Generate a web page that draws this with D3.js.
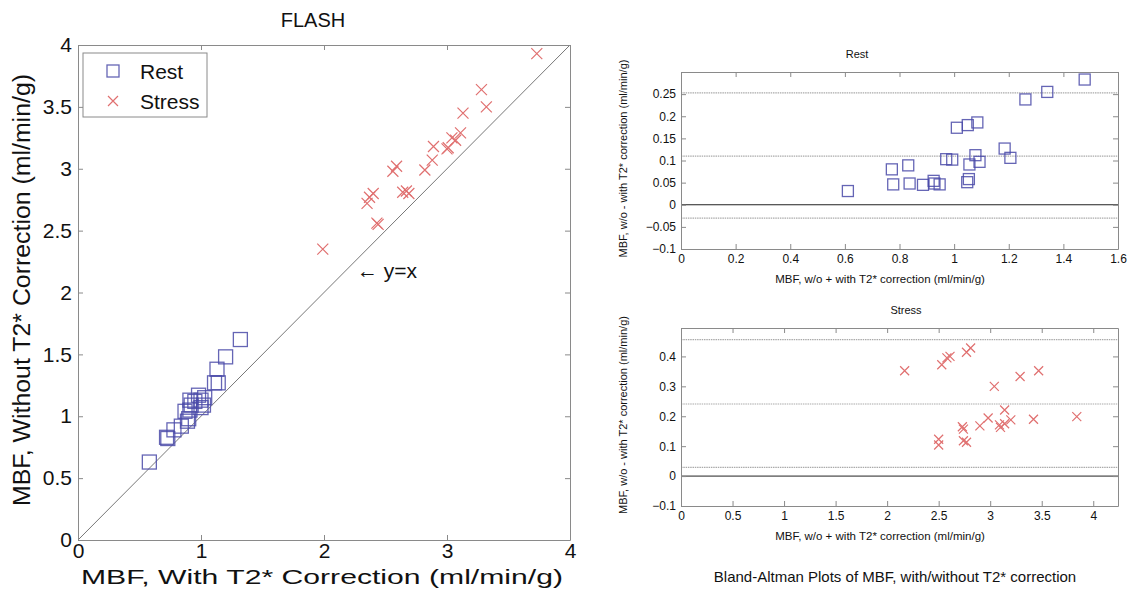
<!DOCTYPE html>
<html>
<head>
<meta charset="utf-8">
<script src="https://cdn.jsdelivr.net/npm/d3@7"></script>
<style>
  body { margin: 0; background: #fff; }
  svg text { font-family: "Liberation Sans", Arial, sans-serif; fill: #111; }
</style>
</head>
<body>
<div id="chart"></div>
<script>
// left panel: with vs without T2* correction
const restWith     = [0.58, 0.72, 0.73, 0.78, 0.84, 0.87, 0.89, 0.90, 0.91, 0.91, 0.92, 0.95, 0.98, 1.00, 1.00, 1.02, 1.03, 1.11, 1.13, 1.14, 1.20, 1.32]
const restWithout  = [0.63, 0.83, 0.82, 0.89, 0.92, 1.04, 0.96, 0.98, 1.05, 1.13, 1.09, 1.12, 1.17, 1.13, 1.07, 1.09, 1.15, 1.27, 1.38, 1.27, 1.48, 1.62]
const stressWith    = [1.99, 2.35, 2.37, 2.40, 2.43, 2.44, 2.56, 2.59, 2.64, 2.67, 2.69, 2.82, 2.88, 2.89, 3.00, 3.01, 3.04, 3.07, 3.11, 3.13, 3.28, 3.32, 3.73]
const stressWithout = [2.35, 2.72, 2.77, 2.80, 2.56, 2.55, 2.98, 3.02, 2.81, 2.82, 2.80, 2.99, 3.07, 3.18, 3.16, 3.17, 3.25, 3.23, 3.29, 3.45, 3.64, 3.50, 3.93]

// Bland-Altman, rest
const restMean = [0.611, 0.772, 0.777, 0.832, 0.837, 0.886, 0.925, 0.928, 0.947, 0.971, 0.993, 1.010, 1.048, 1.050, 1.054, 1.056, 1.078, 1.085, 1.093, 1.185, 1.206, 1.261, 1.341, 1.478]
const restDiff = [0.031, 0.080, 0.046, 0.089, 0.048, 0.045, 0.054, 0.048, 0.046, 0.103, 0.102, 0.174, 0.051, 0.180, 0.058, 0.091, 0.112, 0.186, 0.097, 0.127, 0.106, 0.238, 0.255, 0.283]
const restLines = [-0.03, 0.11, 0.253]

// Bland-Altman, stress
const stressMean = [2.17, 2.50, 2.50, 2.53, 2.58, 2.61, 2.73, 2.74, 2.74, 2.77, 2.77, 2.81, 2.90, 2.98, 3.04, 3.09, 3.10, 3.14, 3.14, 3.20, 3.29, 3.42, 3.47, 3.84]
const stressDiff = [0.352, 0.123, 0.104, 0.372, 0.395, 0.400, 0.165, 0.157, 0.118, 0.113, 0.414, 0.428, 0.168, 0.194, 0.300, 0.171, 0.163, 0.221, 0.175, 0.188, 0.333, 0.190, 0.352, 0.199]
const stressLines = [0.029, 0.241, 0.456]

const width = 1131
const height = 591
const blue = '#4a4aa8'
const red = '#e07070'
const boxColor = '#8a8a8a'

const svg = d3.select('#chart')
              .append('svg')
              .attr('width', width)
              .attr('height', height)

// draws a MATLAB-like box with inward ticks on all four sides
function drawBox(g, x, y, xTicks, yTicks, fmtX, fmtY, fontSize, padX, padY) {
    const [x0, x1] = x.range()
    const [y1, y0] = y.range()
    const tick = 5

    g.append('g')
       .attr('transform', `translate(0, ${y1})`)
       .call(d3.axisBottom(x).tickValues(xTicks).tickSizeInner(-tick).tickSizeOuter(0).tickPadding(padX).tickFormat(fmtX))
    g.append('g')
       .attr('transform', `translate(${x0}, 0)`)
       .call(d3.axisLeft(y).tickValues(yTicks).tickSizeInner(-tick).tickSizeOuter(0).tickPadding(padY).tickFormat(fmtY))
    g.append('g')
       .attr('transform', `translate(0, ${y0})`)
       .call(d3.axisTop(x).tickValues(xTicks).tickSizeInner(-tick).tickSizeOuter(0).tickFormat(''))
    g.append('g')
       .attr('transform', `translate(${x1}, 0)`)
       .call(d3.axisRight(y).tickValues(yTicks).tickSizeInner(-tick).tickSizeOuter(0).tickFormat(''))

    g.selectAll('.domain, .tick line').attr('stroke', boxColor)
    g.selectAll('.tick text')
     .attr('font-size', fontSize)
     .attr('font-family', '"Liberation Sans", Arial, sans-serif')
     .attr('fill', '#111')
}

function squares(g, xs, ys, x, y, size) {
    g.selectAll(null)
     .data(xs.map((d, i) => [d, ys[i]]))
     .enter().append('rect')
     .attr('x', d => x(d[0]) - size / 2)
     .attr('y', d => y(d[1]) - size / 2)
     .attr('width', size)
     .attr('height', size)
     .attr('fill', 'none')
     .attr('stroke', blue)
     .attr('stroke-opacity', 0.85)
     .attr('stroke-width', 1.3)
}

function crosses(g, xs, ys, x, y, size) {
    const h = size / 2
    g.selectAll(null)
     .data(xs.map((d, i) => [d, ys[i]]))
     .enter().append('path')
     .attr('d', d => {
        const cx = x(d[0]), cy = y(d[1])
        return `M${cx - h},${cy - h}L${cx + h},${cy + h}M${cx - h},${cy + h}L${cx + h},${cy - h}`
     })
     .attr('stroke', red)
     .attr('stroke-width', 1.2)
     .attr('fill', 'none')
}

// ---------- left panel ----------
const xL = d3.scaleLinear().domain([0, 4]).range([78, 570])
const yL = d3.scaleLinear().domain([0, 4]).range([540, 45])
const gL = svg.append('g')

gL.append('line')
  .attr('x1', xL(0)).attr('y1', yL(0))
  .attr('x2', xL(4)).attr('y2', yL(4))
  .attr('stroke', '#777')
  .attr('stroke-width', 1)

drawBox(gL, xL, yL, [0, 1, 2, 3, 4], [0, 0.5, 1, 1.5, 2, 2.5, 3, 3.5, 4], d3.format('~g'), d3.format('~g'), 21, 3, 6)

squares(gL, restWith, restWithout, xL, yL, 14)
crosses(gL, stressWith, stressWithout, xL, yL, 11)

gL.append('text')
  .attr('x', 357).attr('y', 278)
  .attr('font-size', 21)
  .text('\u2190 y=x')

gL.append('text')
  .attr('x', 313).attr('y', 27)
  .attr('text-anchor', 'middle')
  .attr('font-size', 20)
  .text('FLASH')

gL.append('text')
  .attr('x', 322).attr('y', 584)
  .attr('text-anchor', 'middle')
  .attr('font-size', 21)
  .attr('textLength', 482)
  .attr('lengthAdjust', 'spacingAndGlyphs')
  .text('MBF, With T2* Correction (ml/min/g)')

gL.append('text')
  .attr('transform', 'translate(30, 290) rotate(-90)')
  .attr('text-anchor', 'middle')
  .attr('font-size', 23)
  .attr('textLength', 432)
  .attr('lengthAdjust', 'spacingAndGlyphs')
  .text('MBF, Without T2* Correction (ml/min/g)')

// legend
const leg = gL.append('g')
leg.append('rect')
   .attr('x', 83).attr('y', 53).attr('width', 124).attr('height', 64)
   .attr('fill', '#fff').attr('stroke', boxColor)
squares(leg, [0], [0], () => 113, () => 71, 12)
crosses(leg, [0], [0], () => 113, () => 101, 10)
leg.append('text').attr('x', 140).attr('y', 79).attr('font-size', 21).text('Rest')
leg.append('text').attr('x', 140).attr('y', 109).attr('font-size', 21).text('Stress')

// ---------- right panels ----------
function baPanel(xDom, yDom, top, bottom, xTicks, yTicks, xs, ys, lines, title, titleX, isRest) {
    const x = d3.scaleLinear().domain(xDom).range([681, 1118])
    const y = d3.scaleLinear().domain(yDom).range([bottom, top])
    const g = svg.append('g')

    g.selectAll(null)
     .data(lines)
     .enter().append('line')
     .attr('x1', x(xDom[0])).attr('x2', x(xDom[1]))
     .attr('y1', d => y(d)).attr('y2', d => y(d))
     .attr('stroke', '#aaa')
     .attr('stroke-width', 1.2)
     .attr('stroke-dasharray', '1.5,0.8')

    g.append('line')
     .attr('x1', x(xDom[0])).attr('x2', x(xDom[1]))
     .attr('y1', y(0)).attr('y2', y(0))
     .attr('stroke', '#222')
     .attr('stroke-width', 1)

    drawBox(g, x, y, xTicks, yTicks, d3.format('~g'), d3.format('~g'), 12, 5, 5)

    if (isRest) squares(g, xs, ys, x, y, 11)
    else crosses(g, xs, ys, x, y, 9)

    g.append('text')
     .attr('x', titleX).attr('y', top - 14)
     .attr('text-anchor', 'middle')
     .attr('font-size', 11)
     .text(title)

    g.append('text')
     .attr('x', 880).attr('y', bottom + 34)
     .attr('text-anchor', 'middle')
     .attr('font-size', 11.5)
     .text('MBF, w/o + with T2* correction (ml/min/g)')

    g.append('text')
     .attr('transform', `translate(627, ${(top + bottom) / 2 - 2}) rotate(-90)`)
     .attr('text-anchor', 'middle')
     .attr('font-size', 11)
     .text('MBF, w/o - with T2* correction (ml/min/g)')
}

baPanel([0, 1.6], [-0.1, 0.3], 72, 249,
        d3.range(0, 1.61, 0.2).map(d => +d.toFixed(1)),
        [-0.1, -0.05, 0, 0.05, 0.1, 0.15, 0.2, 0.25],
        restMean, restDiff, restLines, 'Rest', 857, true)

baPanel([0, 4.24], [-0.1, 0.495], 328, 506,
        [0, 0.5, 1, 1.5, 2, 2.5, 3, 3.5, 4],
        [-0.1, 0, 0.1, 0.2, 0.3, 0.4],
        stressMean, stressDiff, stressLines, 'Stress', 906, false)

svg.append('text')
   .attr('x', 895).attr('y', 582)
   .attr('text-anchor', 'middle')
   .attr('font-size', 15)
   .text('Bland-Altman Plots of MBF, with/without T2* correction')
</script>
</body>
</html>
